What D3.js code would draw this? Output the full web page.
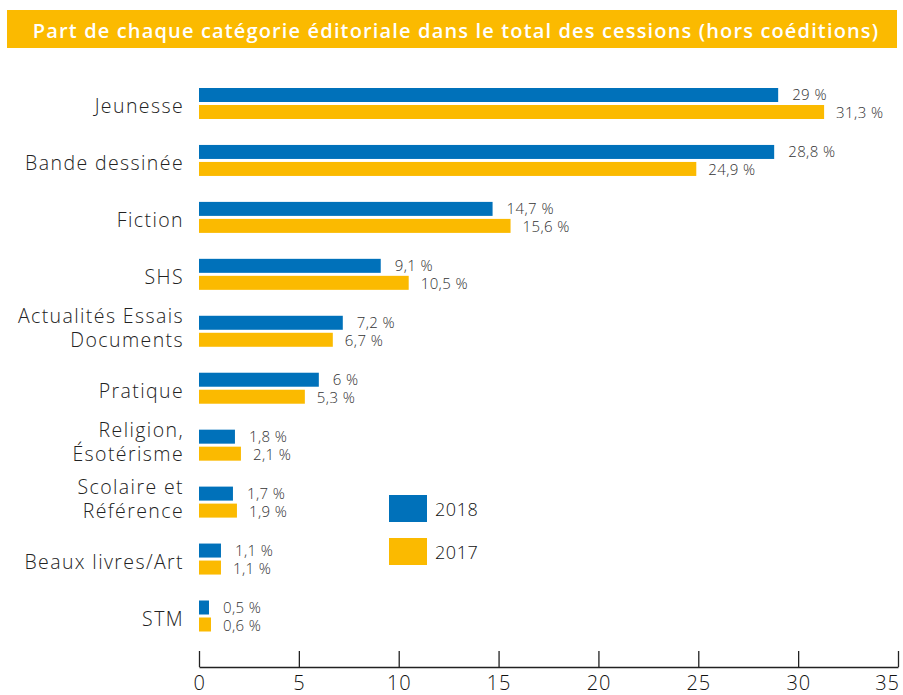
<!DOCTYPE html>
<html>
<head>
<meta charset="utf-8">
<script src="https://cdn.jsdelivr.net/npm/d3@7"></script>
<style>
  body { margin: 0; background: #fff; }
  svg { display: block; font-family: 'Open Sans', sans-serif; }
</style>
</head>
<body>
<div id="chart"></div>
<script>
// Chart data
const categories = [
  ['Jeunesse'],
  ['Bande dessinée'],
  ['Fiction'],
  ['SHS'],
  ['Actualités Essais', 'Documents'],
  ['Pratique'],
  ['Religion,', 'Ésotérisme'],
  ['Scolaire et', 'Référence'],
  ['Beaux livres/Art'],
  ['STM']
];
const values2018 = [29, 28.8, 14.7, 9.1, 7.2, 6, 1.8, 1.7, 1.1, 0.5];
const values2017 = [31.3, 24.9, 15.6, 10.5, 6.7, 5.3, 2.1, 1.9, 1.1, 0.6];
const xTicks = [0, 5, 10, 15, 20, 25, 30, 35];
const seriesNames = ['2018', '2017'];
const title = 'Part de chaque catégorie éditoriale dans le total des cessions (hors coéditions)';

const width = 903;
const height = 695;
const blue = '#0071BA';
const yellow = '#FBBA00';

const svg = d3.select('#chart')
  .append('svg')
  .attr('width', width)
  .attr('height', height);

// Title banner
svg.append('rect')
  .attr('x', 7).attr('y', 10)
  .attr('width', 890).attr('height', 38)
  .attr('fill', yellow);
svg.append('text')
  .attr('x', 456).attr('y', 30)
  .attr('text-anchor', 'middle')
  .attr('dominant-baseline', 'central')
  .attr('fill', '#fff')
  .attr('font-size', 20)
  .attr('font-weight', 600)
  .attr('letter-spacing', 1.15)
  .text(title);

// Scales
const x = d3.scaleLinear().domain([0, 35]).range([199, 898]);
const idx = d3.range(categories.length);
const y = d3.scalePoint().domain(idx).range([103.5, 616]);
const barH = 14;
const gap = 1.5;

// Bars
const rows = svg.append('g').selectAll('g')
  .data(idx)
  .join('g');

rows.append('rect')
  .attr('x', x(0))
  .attr('y', i => y(i) - gap - barH)
  .attr('width', i => x(values2018[i]) - x(0))
  .attr('height', barH)
  .attr('fill', blue);

rows.append('rect')
  .attr('x', x(0))
  .attr('y', i => y(i) + gap)
  .attr('width', i => x(values2017[i]) - x(0))
  .attr('height', barH)
  .attr('fill', yellow);

const fmt = v => String(v).replace('.', ',') + ' %';

rows.append('text')
  .attr('x', i => x(values2018[i]) + 14)
  .attr('y', i => y(i) - gap - barH / 2 - 1)
  .attr('dominant-baseline', 'central')
  .attr('font-size', 15)
  .attr('font-weight', 300)
  .attr('letter-spacing', 0.4)
  .attr('fill', '#333')
  .text(i => fmt(values2018[i]));

rows.append('text')
  .attr('x', i => x(values2017[i]) + 12)
  .attr('y', i => y(i) + gap + barH / 2)
  .attr('dominant-baseline', 'central')
  .attr('font-size', 15)
  .attr('font-weight', 300)
  .attr('letter-spacing', 0.4)
  .attr('fill', '#333')
  .text(i => fmt(values2017[i]));

// Category labels
rows.append('text')
  .attr('text-anchor', 'end')
  .attr('font-size', 19.5)
  .attr('font-weight', 300)
  .attr('letter-spacing', 1.4)
  .attr('fill', '#222')
  .each(function(i) {
    const lines = categories[i];
    const t = d3.select(this);
    const lh = 24;
    const y0 = y(i) - (lines.length - 1) * lh / 2 + (lines.length > 1 ? -4 : 2);
    lines.forEach((l, k) => {
      t.append('tspan')
        .attr('x', 184)
        .attr('y', y0 + k * lh)
        .attr('dominant-baseline', 'central')
        .text(l);
    });
  });

// Axis
const axis = svg.append('g')
  .attr('transform', 'translate(0,667)')
  .call(d3.axisBottom(x).tickValues(xTicks).tickSizeInner(-16).tickSizeOuter(0).tickPadding(9));
axis.select('.domain').attr('stroke', '#222').attr('stroke-width', 1.3);
axis.selectAll('.tick line').attr('stroke', '#222').attr('stroke-width', 1.3);
axis.selectAll('.tick text')
  .attr('font-size', 20)
  .attr('font-weight', 300)
  .attr('letter-spacing', 0.8)
  .attr('fill', '#111')
  .attr('font-family', 'Open Sans, sans-serif');
// last label sits inside the right edge
axis.selectAll('.tick text').filter(d => d === 35).attr('dx', -11);

// Legend
const legend = svg.append('g');
[blue, yellow].forEach((c, k) => {
  legend.append('rect')
    .attr('x', 389).attr('y', 495 + k * 43)
    .attr('width', 38).attr('height', 27)
    .attr('fill', c);
  legend.append('text')
    .attr('x', 435).attr('y', 508.5 + k * 43)
    .attr('dominant-baseline', 'central')
    .attr('font-size', 18)
    .attr('font-weight', 300)
    .attr('letter-spacing', 0.6)
    .attr('fill', '#111')
    .text(seriesNames[k]);
});
</script>
</body>
</html>
